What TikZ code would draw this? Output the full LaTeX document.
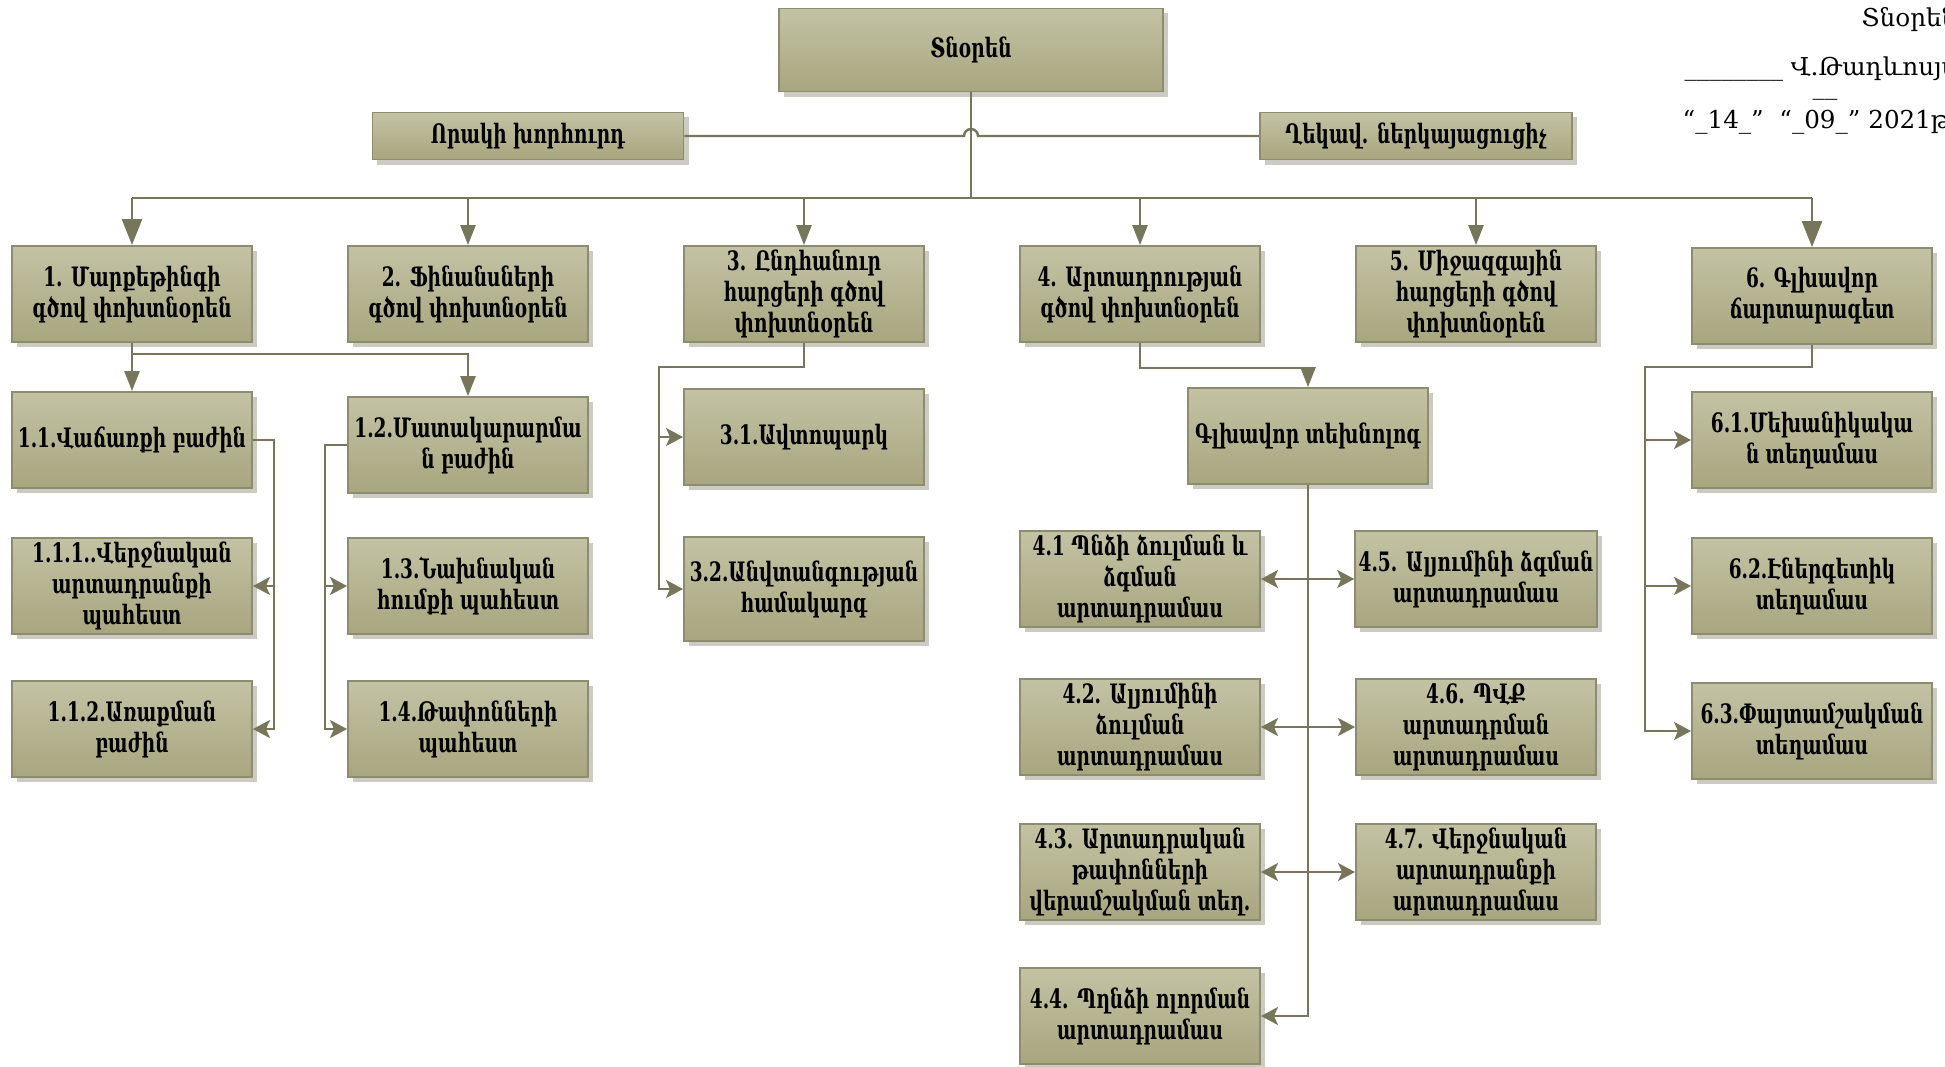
\documentclass[tikz,border=0pt]{standalone}
\usepackage{fontspec}
\setmainfont{DejaVu Serif}
\newfontfamily\boxfont[FakeStretch=0.77]{DejaVu Serif Condensed}
\usetikzlibrary{arrows.meta,shadows}

\definecolor{boxtop}{HTML}{C3C2A4}
\definecolor{boxbot}{HTML}{A8A67F}
\definecolor{boxline}{HTML}{8E8C6E}
\definecolor{linkcol}{HTML}{77765A}
\definecolor{shadowcol}{HTML}{CBCBC4}

\tikzset{
  unitbox/.style={draw=boxline, line width=0.5pt, top color=boxtop, bottom color=boxbot,
    minimum width=2.4cm, minimum height=0.96cm, inner sep=1pt, align=center,
    font=\boxfont\bfseries\fontsize{7.6}{8.8}\selectfont,
    drop shadow={shadow xshift=0.05cm, shadow yshift=-0.05cm, fill=shadowcol, opacity=1}},
  link/.style={draw=linkcol, line width=0.7pt},
  bigtip/.style={-{Triangle[length=0.26cm,width=0.2cm]}},
  downtip/.style={-{Triangle[length=0.2cm,width=0.15cm]}},
  sidetip/.style={-{Stealth[length=0.17cm,width=0.18cm,inset=0.04cm]}},
  bothtip/.style={{Stealth[length=0.17cm,width=0.18cm,inset=0.04cm]}-{Stealth[length=0.17cm,width=0.18cm,inset=0.04cm]}},
  headtext/.style={anchor=base west, inner sep=0pt, font=\fontsize{7}{8}\selectfont}
}

\begin{document}
\begin{tikzpicture}[x=0.01cm, y=-0.01cm]
    \useasboundingbox (0,0) rectangle (1945,1066);

    % Top level
    \node[unitbox, minimum width=3.84cm, minimum height=0.83cm] (dir) at (971,50) {Տնօրեն};
    \node[unitbox, minimum width=3.11cm, minimum height=0.47cm] (qual) at (528,136) {Որակի խորհուրդ};
    \node[unitbox, minimum width=3.12cm, minimum height=0.47cm] (rep) at (1416,136) {Ղեկավ. ներկայացուցիչ};

    % Deputies
    \node[unitbox] (d1) at (132,294) {1. Մարքեթինգի\\գծով փոխտնօրեն};
    \node[unitbox] (d2) at (468,294) {2. Ֆինանսների\\գծով փոխտնօրեն};
    \node[unitbox] (d3) at (804,294) {3. Ընդհանուր\\հարցերի գծով\\փոխտնօրեն};
    \node[unitbox] (d4) at (1140,294) {4. Արտադրության\\գծով փոխտնօրեն};
    \node[unitbox] (d5) at (1476,294) {5. Միջազգային\\հարցերի գծով\\փոխտնօրեն};
    \node[unitbox] (d6) at (1812,296) {6. Գլխավոր\\ճարտարագետ};

    % Marketing and finance units
    \node[unitbox] (s11) at (132,440) {1.1.Վաճառքի բաժին};
    \node[unitbox] (s12) at (468,445) {1.2.Մատակարարմա\\ն բաժին};
    \node[unitbox] (s111) at (132,586) {1.1.1..Վերջնական\\արտադրանքի\\պահեստ};
    \node[unitbox] (s13) at (468,586) {1.3.Նախնական\\հումքի պահեստ};
    \node[unitbox] (s112) at (132,729) {1.1.2.Առաքման\\բաժին};
    \node[unitbox] (s14) at (468,729) {1.4.Թափոնների\\պահեստ};

    % General units
    \node[unitbox] (s31) at (804,437) {3.1.Ավտոպարկ};
    \node[unitbox, minimum height=1.04cm] (s32) at (804,589) {3.2.Անվտանգության\\համակարգ};

    % Production units
    \node[unitbox] (tech) at (1308,436) {Գլխավոր տեխնոլոգ};
    \node[unitbox] (s41) at (1140,579) {4.1 Պնձի ձուլման և\\ձգման\\արտադրամաս};
    \node[unitbox] (s45) at (1476,579) {4.5. Ալյումինի ձգման\\արտադրամաս};
    \node[unitbox] (s42) at (1140,727) {4.2. Ալյումինի\\ձուլման\\արտադրամաս};
    \node[unitbox] (s46) at (1476,727) {4.6. ՊՎՔ\\արտադրման\\արտադրամաս};
    \node[unitbox] (s43) at (1140,872) {4.3. Արտադրական\\թափոնների\\վերամշակման տեղ.};
    \node[unitbox] (s47) at (1476,872) {4.7. Վերջնական\\արտադրանքի\\արտադրամաս};
    \node[unitbox] (s44) at (1140,1016) {4.4. Պղնձի ոլորման\\արտադրամաս};

    % Chief engineer units
    \node[unitbox] (s61) at (1812,440) {6.1.Մեխանիկակա\\ն տեղամաս};
    \node[unitbox] (s62) at (1812,586) {6.2.Էներգետիկ\\տեղամաս};
    \node[unitbox] (s63) at (1812,731) {6.3.Փայտամշակման\\տեղամաս};

    % Approval text
    \node[headtext] (hdr1) at (1861,26) {Տնօրեն};
    \node[headtext] (hdr2) at (1684,75) {\_\_\_\_\_\_\_\_ Վ.Թադևոսյան};
    \node[headtext] (hdrbar) at (1812,94) {\_\_};
    \node[headtext] (hdr3) at (1682,128) {“\_14\_”\ \ “\_09\_” 2021թ.};

    % Connectors from the director
    \coordinate (bus) at (971,198);
    \draw[link] (dir.south) -- (bus);
    \draw[link] (qual.east) -- (964,136) arc[start angle=180, end angle=360, radius=7] -- (rep.west);
    \draw[link] (d1 |- bus) -- (d6 |- bus);
    \foreach \n in {d2,d3,d4,d5}
        \draw[link,downtip] (\n |- bus) -- (\n.north);
    \foreach \n in {d1,d6}
        \draw[link,bigtip] (\n |- bus) -- (\n.north);

    % Marketing
    \coordinate (j1) at (132,354);
    \draw[link,downtip] (d1.south) -- (s11.north);
    \draw[link,downtip] (j1) -| (s12.north);
    \coordinate (r1) at (274,440);
    \draw[link,sidetip] (s11.east) -- (r1) |- (s112.east);
    \draw[link,sidetip] (r1 |- s111.east) -- (s111.east);
    \coordinate (r2) at (325,445);
    \draw[link,sidetip] (s12.west) -- (r2) |- (s14.west);
    \draw[link,sidetip] (r2 |- s13.west) -- (s13.west);

    % General questions
    \coordinate (r3) at (659,367);
    \draw[link,sidetip] (d3.south) |- (r3) |- (s32.west);
    \draw[link,sidetip] (r3 |- s31.west) -- (s31.west);

    % Production
    \draw[link,downtip] (d4.south) -- ++(0,25) -| (tech.north);
    \draw[link,sidetip] (tech.south) |- (s44.east);
    \foreach \l/\r in {s41/s45,s42/s46,s43/s47}
        \draw[link,bothtip] (\l.east) -- (\r.west);

    % Chief engineer
    \coordinate (r6) at (1645,367);
    \draw[link,sidetip] (d6.south) |- (r6) |- (s63.west);
    \foreach \n in {s61,s62}
        \draw[link,sidetip] (r6 |- \n.west) -- (\n.west);

\end{tikzpicture}
\end{document}
